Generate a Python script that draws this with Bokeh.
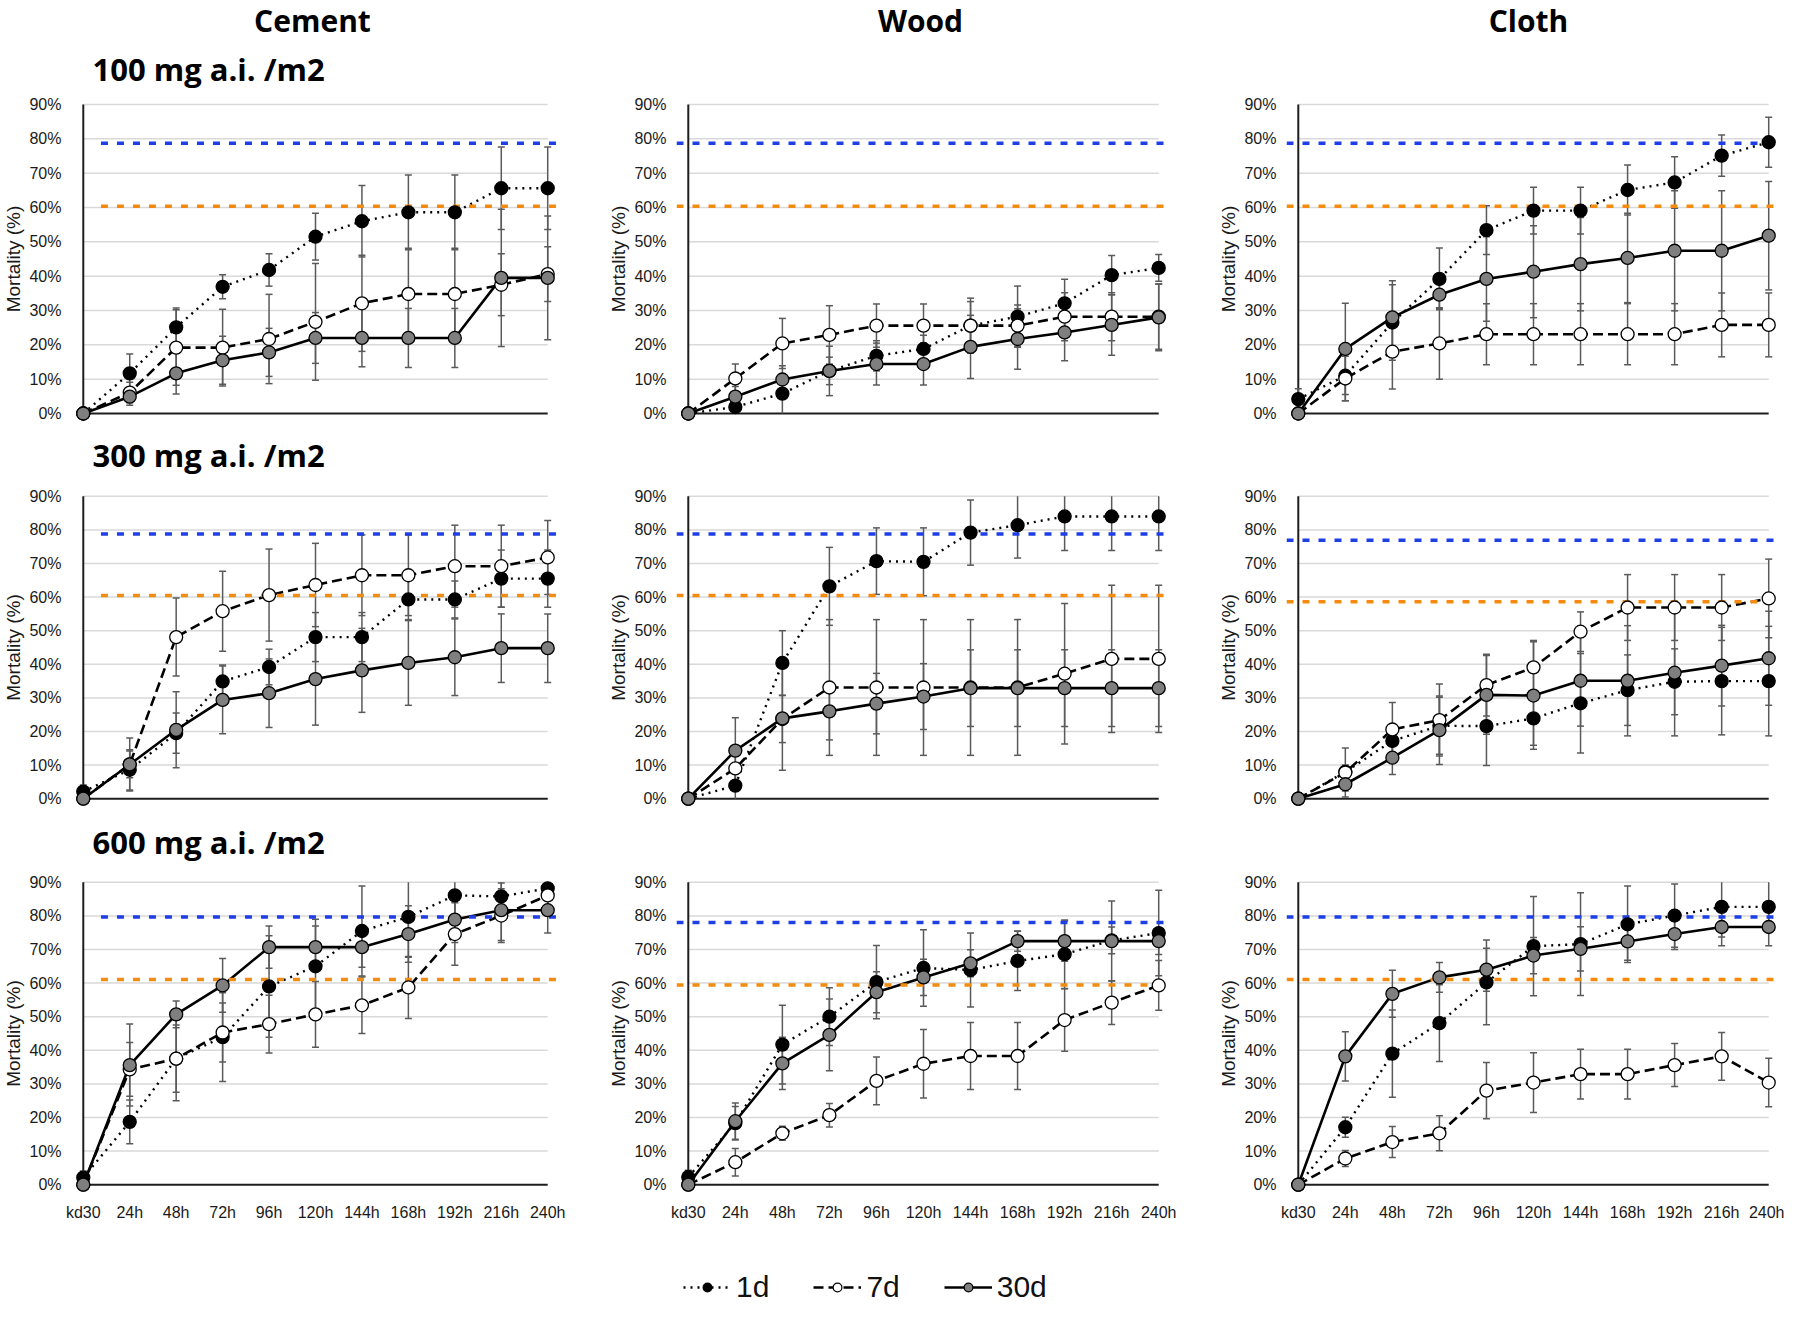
import numpy as np
from bokeh.plotting import figure
from bokeh.models import Range1d, FixedTicker, Legend, LegendItem
from bokeh.layouts import column, row
from bokeh.core.properties import value
from bokeh.embed import file_html
from bokeh.resources import INLINE

# ---------------- data ----------------
TIMES = ["kd30", "24h", "48h", "72h", "96h", "120h", "144h", "168h", "192h", "216h", "240h"]
SURFACES = ["Cement", "Wood", "Cloth"]
DOSES = ["100 mg a.i. /m2", "300 mg a.i. /m2", "600 mg a.i. /m2"]
SERIES = ["1d", "7d", "30d"]
Y_TICKS = [0, 10, 20, 30, 40, 50, 60, 70, 80, 90]

# 100 mg a.i./m2
CEMENT_100_1D = [0, 11.7, 25.1, 36.9, 41.8, 51.5, 56.0, 58.6, 58.6, 65.6, 65.6]
CEMENT_100_1D_ERR = [0, 5.6, 5.6, 3.5, 4.7, 6.8, 10.4, 10.9, 10.9, 12.0, 12.0]
CEMENT_100_7D = [0, 6.1, 19.2, 19.2, 21.7, 26.7, 32.1, 34.8, 34.8, 37.5, 40.6]
CEMENT_100_7D_ERR = [0, 3.0, 11.0, 11.2, 13.0, 17.0, 14.0, 13.3, 13.3, 9.0, 8.0]
CEMENT_100_30D = [0, 4.9, 11.7, 15.5, 17.8, 22.0, 22.0, 22.0, 22.0, 39.5, 39.5]
CEMENT_100_30D_ERR = [0, 2.5, 6.0, 7.0, 7.0, 7.4, 8.4, 8.6, 8.6, 20.0, 18.0]

WOOD_100_1D = [0, 1.9, 5.8, 12.4, 16.8, 18.8, 25.6, 28.2, 32.1, 40.3, 42.4]
WOOD_100_1D_ERR = [0, 2.0, 5.8, 4.0, 4.4, 4.0, 7.0, 8.9, 7.0, 5.7, 3.9]
WOOD_100_7D = [0, 10.2, 20.4, 22.9, 25.6, 25.6, 25.6, 25.6, 28.2, 28.2, 28.2]
WOOD_100_7D_ERR = [0, 4.2, 7.3, 8.5, 6.3, 6.3, 8.0, 6.0, 7.0, 7.0, 9.5]
WOOD_100_30D = [0, 4.9, 9.9, 12.4, 14.4, 14.4, 19.4, 21.7, 23.6, 25.8, 28.0]
WOOD_100_30D_ERR = [0, 3.0, 4.0, 7.2, 6.1, 6.1, 9.2, 8.8, 8.2, 8.8, 9.7]

CLOTH_100_1D = [4.2, 11.0, 26.5, 39.2, 53.4, 59.1, 59.1, 65.1, 67.3, 75.1, 79.0]
CLOTH_100_1D_ERR = [3.0, 7.3, 11.0, 9.0, 7.1, 6.8, 6.8, 7.3, 7.5, 6.0, 7.3]
CLOTH_100_7D = [0, 10.2, 18.0, 20.4, 23.1, 23.1, 23.1, 23.1, 23.1, 25.8, 25.8]
CLOTH_100_7D_ERR = [0, 6.5, 10.9, 10.4, 8.9, 8.9, 8.9, 8.9, 8.9, 9.3, 9.3]
CLOTH_100_30D = [0, 18.8, 28.0, 34.6, 39.2, 41.3, 43.5, 45.3, 47.4, 47.4, 51.8]
CLOTH_100_30D_ERR = [0, 13.3, 10.7, 4.0, 12.3, 13.4, 13.6, 13.0, 17.5, 17.5, 15.8]

# 300 mg a.i./m2
CEMENT_300_1D = [2.1, 8.6, 19.5, 34.9, 39.2, 48.1, 48.1, 59.3, 59.3, 65.5, 65.5]
CEMENT_300_1D_ERR = [2.0, 6.0, 6.0, 4.9, 5.3, 7.3, 7.3, 6.0, 5.5, 8.5, 8.5]
CEMENT_300_7D = [0, 10.2, 48.1, 55.8, 60.6, 63.6, 66.5, 66.5, 69.2, 69.2, 71.8]
CEMENT_300_7D_ERR = [0, 4.0, 11.6, 11.9, 13.7, 12.4, 12.0, 12.0, 12.2, 12.2, 11.0]
CEMENT_300_30D = [0, 10.2, 20.5, 29.4, 31.4, 35.6, 38.2, 40.4, 42.1, 44.8, 44.8]
CEMENT_300_30D_ERR = [0, 7.9, 11.3, 10.1, 10.2, 13.7, 12.5, 12.6, 11.4, 10.2, 10.2]

WOOD_300_1D = [0, 3.9, 40.4, 63.2, 70.7, 70.5, 79.2, 81.4, 84.0, 84.0, 84.0]
WOOD_300_1D_ERR = [0, 3.9, 9.6, 11.6, 9.9, 10.1, 9.7, 9.8, 10.1, 10.1, 10.1]
WOOD_300_7D = [0, 9.0, 23.7, 33.1, 33.1, 33.1, 33.1, 33.1, 37.2, 41.6, 41.6]
WOOD_300_7D_ERR = [0, 4.0, 7.0, 20.2, 20.2, 20.2, 20.2, 20.2, 20.9, 21.9, 21.9]
WOOD_300_30D = [0, 14.3, 23.9, 26.0, 28.3, 30.4, 32.9, 32.9, 32.9, 32.9, 32.9]
WOOD_300_30D_ERR = [0, 9.8, 15.4, 8.5, 9.0, 9.8, 11.4, 11.4, 11.4, 11.4, 11.4]

CLOTH_300_1D = [0, 8.0, 17.2, 21.7, 21.6, 23.9, 28.4, 32.3, 34.8, 35.0, 35.0]
CLOTH_300_1D_ERR = [0, 2.0, 4.0, 8.5, 11.7, 8.0, 14.8, 10.5, 9.8, 16.0, 16.3]
CLOTH_300_7D = [0, 7.8, 20.6, 23.4, 33.8, 39.1, 49.7, 56.9, 56.9, 56.9, 59.6]
CLOTH_300_7D_ERR = [0, 7.3, 8.0, 10.7, 9.2, 8.0, 5.9, 9.8, 9.8, 9.8, 11.7]
CLOTH_300_30D = [0, 4.3, 12.2, 20.4, 30.9, 30.7, 35.1, 35.1, 37.5, 39.6, 41.8]
CLOTH_300_30D_ERR = [0, 2.0, 5.0, 10.2, 11.7, 16.0, 13.5, 16.4, 18.8, 12.0, 14.0]

# 600 mg a.i./m2
CEMENT_600_1D = [2.1, 18.7, 37.5, 43.9, 59.0, 65.0, 75.5, 79.7, 86.1, 85.8, 88.2]
CEMENT_600_1D_ERR = [2.0, 6.5, 12.5, 13.2, 15.1, 14.0, 13.4, 12.0, 10.0, 4.0, 2.0]
CEMENT_600_7D = [0, 34.3, 37.5, 45.3, 47.8, 50.7, 53.4, 58.7, 74.6, 80.1, 86.1]
CEMENT_600_7D_ERR = [0, 8.0, 10.0, 8.8, 8.6, 9.8, 8.4, 9.2, 9.3, 8.0, 3.0]
CEMENT_600_30D = [0, 35.6, 50.7, 59.3, 70.7, 70.7, 70.7, 74.6, 78.9, 81.7, 81.7]
CEMENT_600_30D_ERR = [0, 12.2, 4.0, 8.0, 6.3, 6.3, 6.0, 8.4, 6.8, 9.0, 6.8]

WOOD_600_1D = [2.3, 18.3, 41.7, 50.0, 60.3, 64.5, 63.9, 66.6, 68.6, 72.7, 74.9]
WOOD_600_1D_ERR = [2.0, 5.0, 11.7, 8.6, 10.9, 11.4, 11.0, 8.8, 10.2, 4.0, 12.7]
WOOD_600_7D = [0, 6.7, 15.3, 20.7, 30.9, 36.0, 38.3, 38.3, 49.0, 54.2, 59.3]
WOOD_600_7D_ERR = [0, 4.1, 2.1, 3.5, 7.1, 10.2, 10.0, 10.0, 9.3, 6.5, 7.4]
WOOD_600_30D = [0, 18.9, 36.1, 44.6, 57.3, 61.7, 65.9, 72.5, 72.5, 72.5, 72.5]
WOOD_600_30D_ERR = [0, 5.4, 7.8, 10.7, 6.1, 5.4, 4.0, 3.0, 6.0, 11.9, 4.0]

CLOTH_600_1D = [0, 17.1, 39.0, 48.1, 60.2, 71.0, 71.6, 77.5, 80.1, 82.7, 82.7]
CLOTH_600_1D_ERR = [0, 3.0, 13.0, 11.4, 12.6, 14.8, 15.3, 11.4, 9.4, 9.0, 7.3]
CLOTH_600_7D = [0, 7.8, 12.7, 15.3, 28.0, 30.4, 32.9, 32.9, 35.6, 38.2, 30.4]
CLOTH_600_7D_ERR = [0, 2.4, 4.6, 5.2, 8.4, 8.9, 7.4, 7.4, 6.4, 7.1, 7.2]
CLOTH_600_30D = [0, 38.2, 56.8, 61.7, 64.0, 68.2, 70.2, 72.4, 74.6, 76.7, 76.7]
CLOTH_600_30D_ERR = [0, 7.3, 7.0, 4.4, 6.4, 5.4, 6.6, 5.6, 4.6, 5.6, 5.6]

# reference levels (blue / orange dashed) per dose row, by surface
BLUE_REF_100 = [78.7, 78.7, 78.7]
BLUE_REF_300 = [78.8, 78.8, 76.9]
BLUE_REF_600 = [79.7, 78.0, 79.7]
ORANGE_REF_100 = [60.4, 60.4, 60.4]
ORANGE_REF_300 = [60.5, 60.5, 58.6]
ORANGE_REF_600 = [61.1, 59.4, 61.1]

PANEL_DATA = [
    [(CEMENT_100_1D, CEMENT_100_1D_ERR, CEMENT_100_7D, CEMENT_100_7D_ERR, CEMENT_100_30D, CEMENT_100_30D_ERR),
     (WOOD_100_1D, WOOD_100_1D_ERR, WOOD_100_7D, WOOD_100_7D_ERR, WOOD_100_30D, WOOD_100_30D_ERR),
     (CLOTH_100_1D, CLOTH_100_1D_ERR, CLOTH_100_7D, CLOTH_100_7D_ERR, CLOTH_100_30D, CLOTH_100_30D_ERR)],
    [(CEMENT_300_1D, CEMENT_300_1D_ERR, CEMENT_300_7D, CEMENT_300_7D_ERR, CEMENT_300_30D, CEMENT_300_30D_ERR),
     (WOOD_300_1D, WOOD_300_1D_ERR, WOOD_300_7D, WOOD_300_7D_ERR, WOOD_300_30D, WOOD_300_30D_ERR),
     (CLOTH_300_1D, CLOTH_300_1D_ERR, CLOTH_300_7D, CLOTH_300_7D_ERR, CLOTH_300_30D, CLOTH_300_30D_ERR)],
    [(CEMENT_600_1D, CEMENT_600_1D_ERR, CEMENT_600_7D, CEMENT_600_7D_ERR, CEMENT_600_30D, CEMENT_600_30D_ERR),
     (WOOD_600_1D, WOOD_600_1D_ERR, WOOD_600_7D, WOOD_600_7D_ERR, WOOD_600_30D, WOOD_600_30D_ERR),
     (CLOTH_600_1D, CLOTH_600_1D_ERR, CLOTH_600_7D, CLOTH_600_7D_ERR, CLOTH_600_30D, CLOTH_600_30D_ERR)],
]
BLUE_REFS = [BLUE_REF_100, BLUE_REF_300, BLUE_REF_600]
ORANGE_REFS = [ORANGE_REF_100, ORANGE_REF_300, ORANGE_REF_600]

# ---------------- styling / layout ----------------
FONT = "Liberation Sans"
TITLE_FONT = "Open Sans"
TOTAL_W = 1784
PADX, PADY = 12, 11
YMAX = 90

STYLE = {
    "1d": dict(dash="2 5", fill="#000000", width=2.4),
    "7d": dict(dash="10 5", fill="#ffffff", width=2.6),
    "30d": dict(dash="solid", fill="#7f7f7f", width=2.6),
}
ERR_COLOR = "#5a5a5a"
GRID_COLOR = "#d9d9d9"
AXIS_COLOR = "#1e1e1e"
BLUE = "#1f3fe6"
ORANGE = "#f28c0f"

COL_W = [605, 610, 569]
COL_MBR = [46, 45, 4]
MBL = 62
ROW_H = [332, 339, 375]
MBT = [[1, 1, 1], [9, 9, 3], [8, 2, 8]]
MBB = [[0, 0, 0], [0, 0, 6], [37, 43, 37]]
REF_START_PX = [18, None, None]


def make_panel(r, c):
    fw, fh = COL_W[c], ROW_H[r]
    mbt, mbb, mbr = MBT[r][c], MBB[r][c], COL_MBR[c]
    frame_w = fw - MBL - mbr
    frame_h = fh - mbt - mbb
    ppx = (frame_w - 2 * PADX) / 10.0
    ppy = (frame_h - 2 * PADY) / YMAX
    xr = Range1d(-PADX / ppx, 10 + PADX / ppx)
    yr = Range1d(-PADY / ppy, YMAX + PADY / ppy)
    p = figure(width=fw, height=fh, x_range=xr, y_range=yr,
               output_backend="svg", toolbar_location=None, title=None,
               x_axis_location=("below" if r == 2 else None),
               min_border_left=MBL, min_border_right=mbr,
               min_border_top=mbt, min_border_bottom=mbb)
    p.outline_line_color = None
    p.xgrid.visible = False
    p.ygrid.visible = False
    p.background_fill_color = "white"

    ya = p.yaxis[0]
    ya.ticker = FixedTicker(ticks=Y_TICKS)
    ya.major_label_overrides = {t: f"{t}%" for t in Y_TICKS}
    ya.axis_line_color = None
    ya.major_tick_line_color = None
    ya.minor_tick_line_color = None
    ya.major_label_standoff = 4
    ya.major_label_text_font = FONT
    ya.major_label_text_font_size = "16px"
    ya.major_label_text_color = "#1a1a1a"
    ya.axis_label = "Mortality (%)"
    ya.axis_label_text_font = FONT
    ya.axis_label_text_font_size = "19px"
    ya.axis_label_text_font_style = "normal"
    ya.axis_label_text_color = "#1a1a1a"
    ya.axis_label_standoff = 2

    if r == 2:
        xa = p.xaxis[0]
        xa.ticker = FixedTicker(ticks=list(range(len(TIMES))))
        xa.major_label_overrides = {i: t for i, t in enumerate(TIMES)}
        xa.axis_line_color = None
        xa.major_tick_line_color = None
        xa.minor_tick_line_color = None
        xa.major_label_standoff = 2
        xa.major_label_text_font = FONT
        xa.major_label_text_font_size = "16px"
        xa.major_label_text_color = "#1a1a1a"

    x = np.arange(len(TIMES))
    # gridlines
    gy = Y_TICKS[1:]
    p.segment(x0=[0] * len(gy), y0=gy, x1=[len(TIMES) - 1] * len(gy), y1=gy,
              line_color=GRID_COLOR, line_width=1.5)
    # axis lines
    p.segment(x0=[0, 0], y0=[0, 0], x1=[0, len(TIMES) - 1], y1=[YMAX, 0],
              line_color=AXIS_COLOR, line_width=2)

    d1, e1, d7, e7, d30, e30 = PANEL_DATA[r][c]
    series = [("1d", d1, e1), ("7d", d7, e7), ("30d", d30, e30)]

    # error bars
    for name, vals, errs in series:
        vals = np.array(vals, dtype=float)
        errs = np.array(errs, dtype=float)
        m = errs > 0
        lo = np.clip(vals - errs, 0, YMAX)
        hi = np.clip(vals + errs, 0, YMAX)
        p.segment(x0=x[m], y0=lo[m], x1=x[m], y1=hi[m], line_color=ERR_COLOR, line_width=1.5)
        mlo = m & (vals - errs > 0)
        mhi = m & (vals + errs < YMAX)
        p.scatter(x[mlo], lo[mlo], marker="dash", size=7, line_color=ERR_COLOR, line_width=1.5)
        p.scatter(x[mhi], hi[mhi], marker="dash", size=7, line_color=ERR_COLOR, line_width=1.5)

    # series lines
    for name, vals, errs in series:
        st = STYLE[name]
        p.line(x, vals, line_color="black", line_width=st["width"], line_dash=st["dash"])

    # reference levels
    start = REF_START_PX[c] / ppx if REF_START_PX[c] is not None else xr.start
    p.segment(x0=[start], y0=[BLUE_REFS[r][c]], x1=[xr.end], y1=[BLUE_REFS[r][c]],
              line_color=BLUE, line_width=3.5, line_dash="7 9")
    p.segment(x0=[start], y0=[ORANGE_REFS[r][c]], x1=[xr.end], y1=[ORANGE_REFS[r][c]],
              line_color=ORANGE, line_width=3.5, line_dash="7 9")

    # markers
    for name, vals, errs in series:
        st = STYLE[name]
        p.scatter(x, vals, marker="circle", size=13, fill_color=st["fill"],
                  line_color="black", line_width=1.3)
    return p


def text_strip(height, items):
    p = figure(width=TOTAL_W, height=height, x_range=Range1d(0, TOTAL_W),
               y_range=Range1d(height, 0), output_backend="svg", toolbar_location=None,
               title=None, x_axis_location=None, y_axis_location=None,
               min_border=0)
    p.outline_line_color = None
    p.xgrid.visible = False
    p.ygrid.visible = False
    for txt, tx, ty, size, align in items:
        p.text(x=[tx], y=[ty], text=[txt], text_font=value(TITLE_FONT),
               text_font_style="bold", text_font_size=value(size),
               text_align=align, text_baseline="middle", text_color="black")
    return p


header = text_strip(92, [
    (SURFACES[0], 312, 20, "30px", "center"),
    (SURFACES[1], 920, 20, "30px", "center"),
    (SURFACES[2], 1528, 20, "30px", "center"),
    (DOSES[0], 92, 68, "31px", "left"),
])
title2 = text_strip(52, [(DOSES[1], 92, 30, "31px", "left")])
title3 = text_strip(48, [(DOSES[2], 92, 26, "31px", "left")])

rows = [row(*[make_panel(r, c) for c in range(3)]) for r in range(3)]

# legend strip
lg = figure(width=TOTAL_W, height=68, x_range=Range1d(0, TOTAL_W), y_range=Range1d(0, 68),
            output_backend="svg", toolbar_location=None, title=None,
            x_axis_location=None, y_axis_location=None, min_border=0)
lg.outline_line_color = None
lg.xgrid.visible = False
lg.ygrid.visible = False
items = []
for name in SERIES:
    st = STYLE[name]
    lr = lg.line([-100, -90], [-100, -100], line_color="black", line_width=st["width"],
                 line_dash=st["dash"])
    sr = lg.scatter([-100], [-100], marker="circle", fill_color=st["fill"],
                    line_color="black", line_width=1.2)
    items.append(LegendItem(label=name, renderers=[lr, sr]))
legend = Legend(items=items, orientation="horizontal", location=(683, 2),
                glyph_width=48, glyph_height=22, label_standoff=5, spacing=44,
                padding=0, margin=0, border_line_color=None, background_fill_alpha=0,
                label_text_font=FONT, label_text_font_size="30px", label_height=30,
                label_text_color="#111111")
lg.add_layout(legend)

layout = column(header, rows[0], title2, rows[1], title3, rows[2], lg)

with open("out.html", "w") as f:
    f.write(file_html(layout, INLINE))
